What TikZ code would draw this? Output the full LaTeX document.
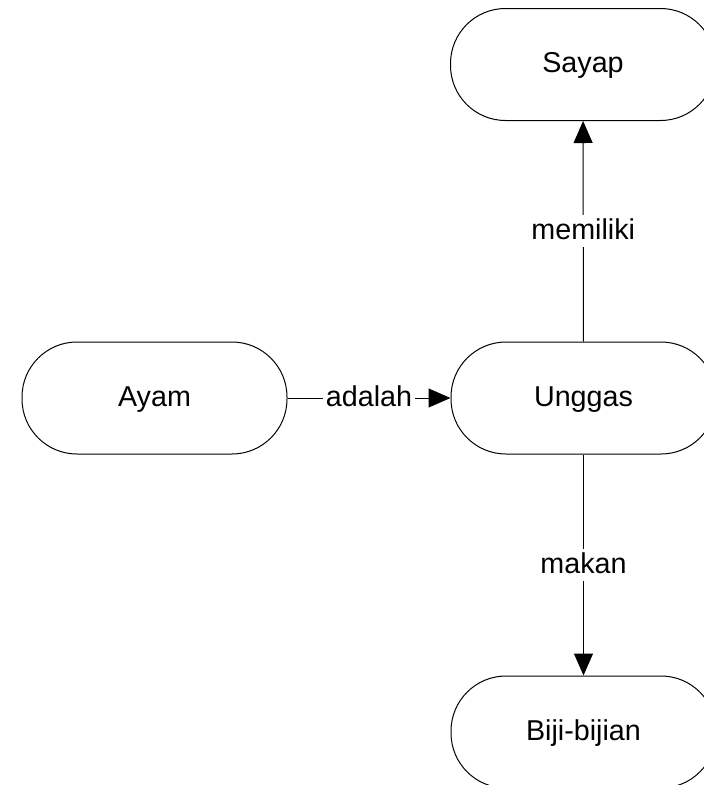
\documentclass[tikz,border=0pt]{standalone}
\usepackage{fontspec}
\setmainfont{Liberation Sans}
\usetikzlibrary{arrows.meta}

\begin{document}
\begin{tikzpicture}[x=1pt,y=1pt,
    konsep/.style={draw,line width=1pt,rounded corners=55pt,minimum width=265pt,minimum height=112pt,inner sep=0pt,text height=21pt,text depth=5pt,font=\fontsize{28.7}{34}\selectfont},
    relasi/.style={line width=1pt,-{Triangle[length=22pt,width=19pt]}},
    label/.style={fill=white,inner sep=3pt,text height=21pt,text depth=5pt,font=\fontsize{28.7}{34}\selectfont}]
      \useasboundingbox (0,0) rectangle (704,-785);
      \node [konsep] (sayap) at (583,-64.5) {Sayap};
      \node [konsep] (ayam) at (154.5,-398) {Ayam};
      \node [konsep] (unggas) at (583.5,-398) {Unggas};
      \node [konsep] (biji) at (583.5,-732) {Biji-bijian};
      \draw [relasi] (ayam) -- node [label] {adalah} (unggas);
      \draw [relasi] (unggas) -- node [label] {memiliki} (sayap);
      \draw [relasi] (unggas) -- node [label] {makan} (biji);
      \end{tikzpicture}
\end{document}
